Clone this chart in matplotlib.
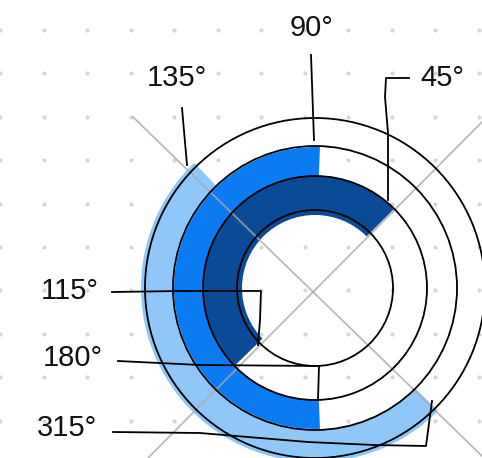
import numpy as np
import matplotlib.pyplot as plt
from matplotlib.patches import Wedge, Circle

# arcs, degrees counter-clockwise from east
arc_start = [45, 88, 134]
arc_end = [224, 272, 315]
arc_colors = ['#0b4a96', '#0a7bf0', '#90c7f9']
arc_inner = [73, 112, 142]
arc_outer = [112, 141, 174]

circle_r = [78, 112, 142, 170]
labels = ['135°', '90°', '45°', '115°', '180°', '315°']
label_x = [177, 312, 442, 70, 73, 67]
label_y = [78, 28, 78, 291, 358, 428]

cx, cy = 315, 288

fig = plt.figure(figsize=(4.82, 4.58), dpi=100)
ax = fig.add_axes([0, 0, 1, 1])
ax.set_xlim(0, 482)
ax.set_ylim(458, 0)
ax.axis('off')

# dot grid
gx, gy = np.meshgrid(np.arange(0, 482, 43.5), np.arange(30, 458, 43.4))
ax.scatter(gx, gy, s=9, color='#d6d6d6', linewidths=0, zorder=1)

for a, b, c, ri, ro in zip(arc_start, arc_end, arc_colors, arc_inner, arc_outer):
    # y axis is flipped so the angles change sign
    ax.add_patch(Wedge((cx, cy), ro, -b, -a, width=ro - ri, color=c, lw=0, zorder=2))

# diagonals
ax.plot([133, 482], [117, 456], color='#a8a8a8', lw=1.3, alpha=0.8, zorder=3)
ax.plot([482, 148], [122, 458], color='#a8a8a8', lw=1.3, alpha=0.8, zorder=3)

for r in circle_r:
    ax.add_patch(Circle((cx, cy), r, fill=False, ec='black', lw=1.3, zorder=4))

# hand drawn leaders
leaders = [
    ([182, 187], [108, 165]),
    ([311, 314], [55, 140]),
    ([409, 386, 385, 388, 388], [78, 78, 97, 133, 200]),
    ([112, 180, 261, 260, 258], [292, 291, 291, 320, 345]),
    ([118, 200, 319, 318], [361, 365, 366, 400]),
    ([113, 200, 308, 374, 426, 432], [432, 433, 442, 445, 446, 401]),
]
for lx, ly in leaders:
    ax.plot(lx, ly, color='black', lw=1.3, zorder=5, solid_joinstyle='round')

for t, x, y in zip(labels, label_x, label_y):
    ax.text(x, y, t, fontsize=21, ha='center', va='center', color='#111111',
            family='Liberation Sans', zorder=6)

fig.savefig('out.png', dpi=100)
